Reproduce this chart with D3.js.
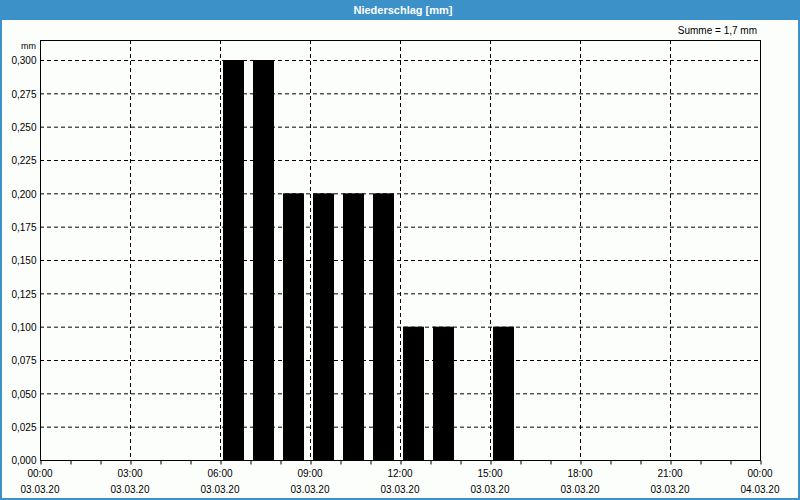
<!DOCTYPE html>
<html><head><meta charset="utf-8">
<script src="https://cdn.jsdelivr.net/npm/d3@7"></script>
<style>
html,body{margin:0;padding:0;background:#fff;}
svg{display:block;font-family:"Liberation Sans",Arial,sans-serif;}
</style></head><body>
<script>
const title = "Niederschlag [mm]";
const sumLabel = "Summe = 1,7 mm";
const unitLabel = "mm";
const hours = [6, 7, 8, 9, 10, 11, 12, 13, 14, 15];
const values = [0.3, 0.3, 0.2, 0.2, 0.2, 0.2, 0.1, 0.1, 0, 0.1];
const xTickHours = [0, 3, 6, 9, 12, 15, 18, 21, 24];
const xTimeLabels = ["00:00","03:00","06:00","09:00","12:00","15:00","18:00","21:00","00:00"];
const xDateLabels = ["03.03.20","03.03.20","03.03.20","03.03.20","03.03.20","03.03.20","03.03.20","03.03.20","04.03.20"];
const yTicks = [0,0.025,0.05,0.075,0.1,0.125,0.15,0.175,0.2,0.225,0.25,0.275,0.3];

const W = 800, H = 500;
const svg = d3.select("body").append("svg").attr("width", W).attr("height", H);
svg.append("rect").attr("x",0).attr("y",0).attr("width",W).attr("height",H).attr("fill","#3c91c8");
svg.append("rect").attr("x",2).attr("y",20).attr("width",W-4).attr("height",H-22).attr("fill","#fcfefc");
svg.append("text").attr("x",W/2+3).attr("y",14).attr("text-anchor","middle")
  .attr("fill","#fff").attr("font-size",11).attr("font-weight","bold").text(title);

const x = d3.scaleLinear().domain([0,24]).range([40,760]);
const y = d3.scaleLinear().domain([0,0.3]).range([460,60]);
const plotTop = 40;

// grid
const g = svg.append("g");
g.selectAll(".hg").data(yTicks.filter(d=>d>0)).enter().append("line")
  .attr("x1",40).attr("x2",760).attr("y1",d=>y(d)+0.5).attr("y2",d=>y(d)+0.5)
  .attr("stroke","#000").attr("stroke-dasharray","4,3");
g.selectAll(".vg").data(xTickHours.slice(1,-1)).enter().append("line")
  .attr("y1",plotTop).attr("y2",460).attr("x1",d=>x(d)+0.5).attr("x2",d=>x(d)+0.5)
  .attr("stroke","#000").attr("stroke-dasharray","4,3");

// bars
const bw = 21;
svg.selectAll(".bar").data(hours.map((h,i)=>({h,v:values[i]})).filter(d=>d.v>0)).enter().append("rect")
  .attr("x",d=>x(d.h)+3).attr("width",bw)
  .attr("y",d=>y(d.v)).attr("height",d=>y(0)-y(d.v)).attr("fill","#000");

// frame
svg.append("rect").attr("x",40.5).attr("y",plotTop+0.5).attr("width",720).attr("height",460-plotTop)
  .attr("fill","none").attr("stroke","#000");

// y axis
const ya = d3.axisLeft(y).tickValues(yTicks).tickSize(0).tickFormat(d=>d3.format(".3f")(d).replace(".",","));
const yg = svg.append("g").attr("transform","translate(40.5,0.5)").call(ya);
yg.select(".domain").remove();
yg.selectAll("text").attr("font-size",10).attr("fill","#000").attr("font-family","'Liberation Sans',Arial,sans-serif").attr("x",-4);

svg.append("text").attr("x",36).attr("y",49).attr("text-anchor","end").attr("font-size",9).text(unitLabel);
svg.append("text").attr("x",757).attr("y",34).attr("text-anchor","end").attr("font-size",10).text(sumLabel);

// x axis
const hourTicks = d3.range(0,25);
const xa = d3.axisBottom(x).tickValues(hourTicks).tickSize(4).tickFormat("");
const xg = svg.append("g").attr("transform","translate(0.5,460.5)").call(xa);
xg.select(".domain").remove();
const lab = svg.append("g");
lab.selectAll(".t").data(xTickHours).enter().append("text")
  .attr("x",d=>x(d)).attr("y",477).attr("text-anchor","middle").attr("font-size",10)
  .text((d,i)=>xTimeLabels[i]);
lab.selectAll(".d").data(xTickHours).enter().append("text")
  .attr("x",d=>x(d)).attr("y",493).attr("text-anchor","middle").attr("font-size",10)
  .text((d,i)=>xDateLabels[i]);
</script>
</body></html>
